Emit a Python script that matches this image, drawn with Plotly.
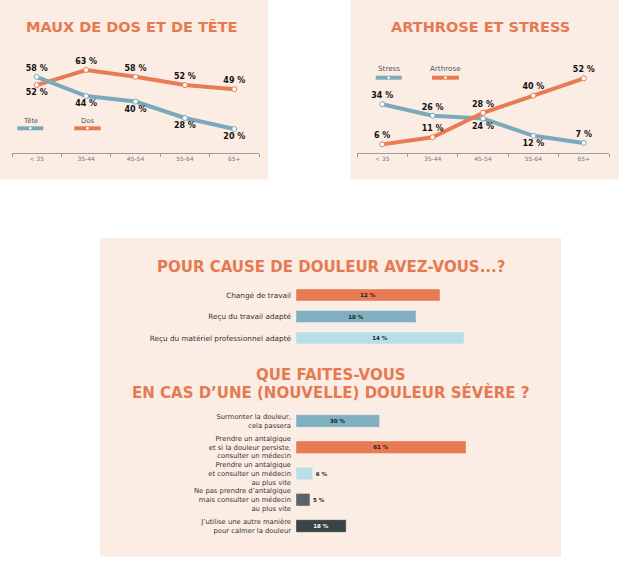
import plotly.graph_objects as go

W, H = 619, 563

# ---------------- data ----------------
age_groups = ["< 35", "35-44", "45-54", "55-64", "65+"]
tete = [58, 44, 40, 28, 20]
dos = [52, 63, 58, 52, 49]
stress = [34, 26, 24, 12, 7]
arthrose = [6, 11, 28, 40, 52]

cause_labels = ["Changé de travail", "Reçu du travail adapté",
                "Reçu du matériel professionnel adapté"]
cause_values = [12, 10, 14]

action_labels = ["Surmonter la douleur,<br>cela passera",
                 "Prendre un antalgique<br>et si la douleur persiste,<br>consulter un médecin",
                 "Prendre un antalgique<br>et consulter un médecin<br>au plus vite",
                 "Ne pas prendre d’antalgique<br>mais consulter un médecin<br>au plus vite",
                 "J’utilise une autre manière<br>pour calmer la douleur"]
action_values = [30, 61, 6, 5, 18]

# ---------------- styles ----------------
PEACH = "#FBEDE4"
ORANGE = "#E87B53"
BLUE = "#7BA9BC"
STEEL = "#80AFC1"
LIGHT = "#B8DEEA"
GREY = "#5B6567"
DARK = "#3A4345"
TITLE_FONT = dict(family="DejaVu Sans", size=14.5, color="#E57A52", weight="bold")
LABEL_FONT = dict(family="DejaVu Sans", size=8, color="#111111", weight="bold")


def px(x):
    return x / W


def py(y):
    return 1 - y / H


def pct(vals):
    return [f"{v} %" for v in vals]


tete_pos = ["top center", "bottom center", "bottom center", "bottom center", "bottom center"]
dos_pos = ["bottom center", "top center", "top center", "top center", "top center"]
stress_pos = ["top center", "top center", "bottom center", "bottom center", "top center"]
arthrose_pos = ["top center"] * 5

fig = go.Figure()


def line_trace(x, y, pos, color, xa, ya, name):
    return go.Scatter(
        x=x, y=y, name=name, mode="lines+markers+text",
        text=pct(y), textposition=pos, textfont=LABEL_FONT,
        line=dict(color=color, width=4),
        marker=dict(size=5, color="white", line=dict(color=color, width=1)),
        xaxis=xa, yaxis=ya, cliponaxis=False, showlegend=False, hoverinfo="skip")


fig.add_trace(line_trace(age_groups, dos, dos_pos, ORANGE, "x", "y", "Dos"))
fig.add_trace(line_trace(age_groups, tete, tete_pos, BLUE, "x", "y", "Tête"))
fig.add_trace(line_trace(age_groups, stress, stress_pos, BLUE, "x2", "y2", "Stress"))
fig.add_trace(line_trace(age_groups, arthrose, arthrose_pos, ORANGE, "x2", "y2", "Arthrose"))

fig.add_trace(go.Bar(
    x=cause_values, y=cause_labels, orientation="h", width=0.56,
    marker=dict(color=[ORANGE, STEEL, LIGHT], line=dict(color="rgba(255,255,255,0.35)", width=1)),
    text=pct(cause_values), textposition="inside", insidetextanchor="middle",
    textfont=dict(family="DejaVu Sans", size=5.5, color="#1a1a1a", weight="bold"),
    xaxis="x3", yaxis="y3", showlegend=False, hoverinfo="skip"))

fig.add_trace(go.Bar(
    x=action_values, y=action_labels, orientation="h", width=0.48,
    marker=dict(color=[STEEL, ORANGE, LIGHT, GREY, DARK], line=dict(color="rgba(255,255,255,0.35)", width=1)),
    text=pct(action_values),
    textposition=["inside", "inside", "outside", "outside", "inside"],
    insidetextanchor="middle",
    textfont=dict(family="DejaVu Sans", size=5.5,
                  color=["#1a1a1a", "#1a1a1a", "#1a1a1a", "#1a1a1a", "#ffffff"], weight="bold"),
    cliponaxis=False,
    xaxis="x4", yaxis="y4", showlegend=False, hoverinfo="skip"))

# ---------------- axes ----------------
line_x = dict(type="category", range=[-0.5, 4.5], showline=True, linecolor="#9C9C9C",
              linewidth=1, ticks="outside", ticklen=3, tickcolor="#9C9C9C", tickwidth=1,
              tickson="boundaries", showgrid=False, zeroline=False,
              tickfont=dict(family="DejaVu Sans", size=6, color="#777777"), fixedrange=True)
line_domain_y = [py(153), py(60)]

fig.update_layout(
    width=W, height=H, margin=dict(l=0, r=0, t=0, b=0),
    paper_bgcolor="white", plot_bgcolor="rgba(0,0,0,0)",
    showlegend=False,
    xaxis=dict(line_x, domain=[px(12), px(259)], anchor="y"),
    yaxis=dict(domain=line_domain_y, range=[2.5, 2.5 + 93 / 1.372], visible=False, anchor="x"),
    xaxis2=dict(line_x, domain=[px(357), px(609)], anchor="y2"),
    yaxis2=dict(domain=line_domain_y, range=[0, 93 / 1.435], visible=False, anchor="x2"),
    xaxis3=dict(domain=[px(296), px(466)], range=[0, 170 / 12], visible=False, anchor="y3"),
    yaxis3=dict(domain=[py(348.75), py(284.25)], type="category", categoryarray=cause_labels,
                range=[2.5, -0.5], showline=False, ticks="", showgrid=False, zeroline=False,
                ticklabelstandoff=4, anchor="x3",
                tickfont=dict(family="DejaVu Sans", size=7.3, color="#333333")),
    xaxis4=dict(domain=[px(296), px(466)], range=[0, 61], visible=False, anchor="y4"),
    yaxis4=dict(domain=[py(539.1), py(407.9)], type="category", categoryarray=action_labels,
                range=[4.5, -0.5], showline=False, ticks="", showgrid=False, zeroline=False,
                ticklabelstandoff=4, anchor="x4",
                tickfont=dict(family="DejaVu Sans", size=6.8, color="#333333")),
)

# ---------------- panels ----------------
shapes = [
    dict(type="rect", xref="paper", yref="paper", x0=0, x1=px(268), y0=py(179.5), y1=1,
         fillcolor=PEACH, line_width=0, layer="below"),
    dict(type="rect", xref="paper", yref="paper", x0=px(350.5), x1=1, y0=py(179.5), y1=1,
         fillcolor=PEACH, line_width=0, layer="below"),
    dict(type="rect", xref="paper", yref="paper", x0=px(100), x1=px(561), y0=py(556.7), y1=py(237.7),
         fillcolor=PEACH, line_width=0, layer="below"),
]

# legend samples (line with a white dot)
legend_items = [
    ("Tête", BLUE, 17.3, 43.3, 120.7, 128.3, 6.8),
    ("Dos", ORANGE, 74.3, 100.7, 120.7, 128.3, 6.8),
    ("Stress", BLUE, 375.7, 401.7, 68.3, 77.7, 7.2),
    ("Arthrose", ORANGE, 432, 459, 68.3, 77.7, 7.2),
]
annotations = []
for name, col, x0, x1, ty, ly, fs in legend_items:
    shapes.append(dict(type="line", xref="paper", yref="paper", x0=px(x0), x1=px(x1),
                       y0=py(ly), y1=py(ly), line=dict(color=col, width=4)))
    cx = (x0 + x1) / 2
    shapes.append(dict(type="circle", xref="paper", yref="paper", x0=px(cx - 1.3), x1=px(cx + 1.3),
                       y0=py(ly + 1.3), y1=py(ly - 1.3), fillcolor="white", line_width=0))
    annotations.append(dict(text=name, xref="paper", yref="paper", x=px(cx), y=py(ty),
                            xanchor="center", yanchor="middle", showarrow=False,
                            font=dict(family="DejaVu Sans", size=fs, color="#555555")))

titles = [
    ("MAUX DE DOS ET DE TÊTE", 131.5, 27, 14.5),
    ("ARTHROSE ET STRESS", 480, 27, 14.5),
    ("POUR CAUSE DE DOULEUR AVEZ-VOUS...?", 330.5, 267, 15),
    ("QUE FAITES-VOUS", 330.5, 375, 15),
    ("EN CAS D’UNE (NOUVELLE) DOULEUR SÉVÈRE ?", 330.5, 392.3, 15),
]
for t, x, y, s in titles:
    annotations.append(dict(text=t, xref="paper", yref="paper", x=px(x), y=py(y),
                            xanchor="center", yanchor="middle", showarrow=False,
                            font=dict(TITLE_FONT, size=s)))

fig.update_layout(shapes=shapes, annotations=annotations)

fig.write_html("out.html", config={"displayModeBar": False})
